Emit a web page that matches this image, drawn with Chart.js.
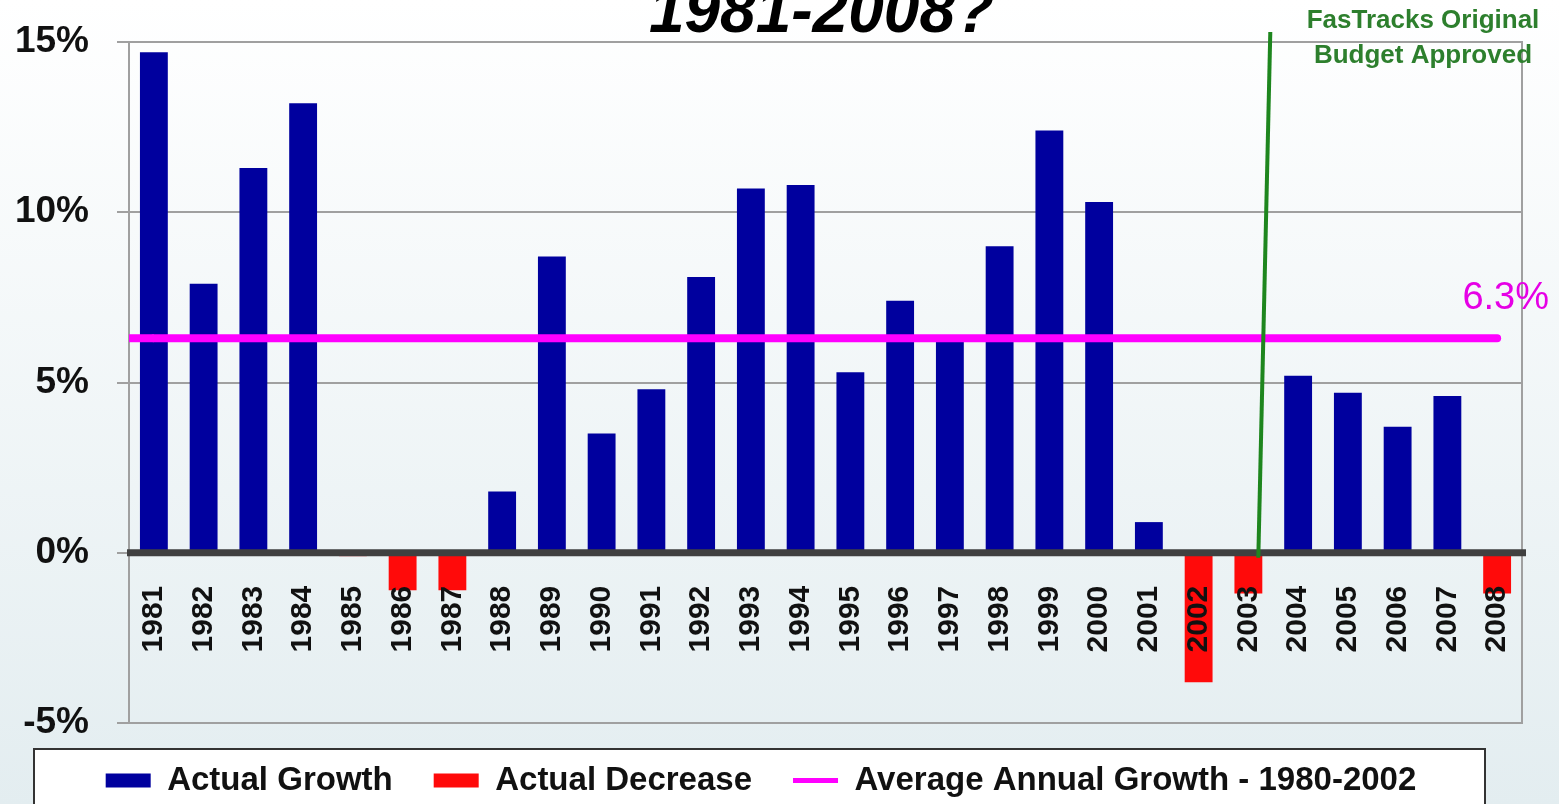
<!DOCTYPE html>
<html lang="en">
<head>
<meta charset="UTF-8">
<meta name="viewport" content="width=device-width, initial-scale=1.0">
<script src="https://cdn.jsdelivr.net/npm/chart.js@4.4.0/dist/chart.umd.min.js"></script>
<title>Annual Growth 1981-2008</title>
<style>
  html, body { margin: 0; padding: 0; overflow: hidden; background: #fff; }
  canvas { display: block; }
</style>
</head>
<body>
<canvas id="canvas" width="1559" height="807"></canvas>
<script>
// data (percent)
const years = ['1981','1982','1983','1984','1985','1986','1987','1988','1989','1990',
               '1991','1992','1993','1994','1995','1996','1997','1998','1999','2000',
               '2001','2002','2003','2004','2005','2006','2007','2008'];
const growth = [14.7, 7.9, 11.3, 13.2, null, null, null, 1.8, 8.7, 3.5,
                4.8, 8.1, 10.7, 10.8, 5.3, 7.4, 6.3, 9.0, 12.4, 10.3,
                0.9, null, null, 5.2, 4.7, 3.7, 4.6, null];
const decrease = [null, null, null, null, -0.1, -1.1, -1.1, null, null, null,
                  null, null, null, null, null, null, null, null, null, null,
                  null, -3.8, -1.2, null, null, null, null, -1.2];
const avgGrowth = [6.3, 6.3, 6.3, 6.3, 6.3, 6.3, 6.3, 6.3, 6.3, 6.3,
                   6.3, 6.3, 6.3, 6.3, 6.3, 6.3, 6.3, 6.3, 6.3, 6.3,
                   6.3, 6.3, 6.3, 6.3, 6.3, 6.3, 6.3, 6.3];
const yTicks = [-5, 0, 5, 10, 15];

const titleText = '1981-2008?';
const avgLabel = '6.3%';
const budgetYear = '2003';
const budgetNote = ['FasTracks Original', 'Budget Approved'];

const FONT = 'Arial, "Liberation Sans", sans-serif';

// background, legend frame, plot frame, zero line and notes
const paint = {
  id: 'paint',
  beforeDraw(chart) {
    const ctx = chart.ctx;
    ctx.save();
    const g = ctx.createLinearGradient(0, 0, 0, chart.height);
    g.addColorStop(0, '#ffffff');
    g.addColorStop(1, '#e3edf0');
    ctx.fillStyle = g;
    ctx.fillRect(0, 0, chart.width, chart.height);

    const lg = chart.legend;
    const bx = lg.left + 34, by = lg.top + 26, bw = lg.right - 37 - bx;
    ctx.fillStyle = '#ffffff';
    ctx.fillRect(bx, by, bw, chart.height);
    ctx.strokeStyle = '#333333';
    ctx.lineWidth = 2;
    ctx.strokeRect(bx, by, bw, chart.height);
    ctx.restore();
  },
  beforeDatasetsDraw(chart) {
    const ctx = chart.ctx, a = chart.chartArea;
    ctx.save();
    ctx.strokeStyle = '#a0a0a0';
    ctx.lineWidth = 2;
    ctx.strokeRect(a.left, a.top, a.right - a.left, a.bottom - a.top);
    ctx.restore();
  },
  afterDatasetsDraw(chart) {
    const ctx = chart.ctx, a = chart.chartArea;
    const xs = chart.scales.x, ys = chart.scales.y;
    const y0 = ys.getPixelForValue(0);
    ctx.save();
    // average line runs in from the plot edge
    const first = chart.getDatasetMeta(2).data[0];
    ctx.strokeStyle = '#ff00ff';
    ctx.lineWidth = 8;
    ctx.beginPath();
    ctx.moveTo(a.left, first.y);
    ctx.lineTo(first.x, first.y);
    ctx.stroke();

    // thick zero line over the bars
    ctx.strokeStyle = '#404040';
    ctx.lineWidth = 7;
    ctx.beginPath();
    ctx.moveTo(a.left - 2, y0);
    ctx.lineTo(a.right + 4, y0);
    ctx.stroke();

    // budget approval marker
    const i = years.indexOf(budgetYear);
    const p1 = xs.getPixelForValue(i), p2 = xs.getPixelForValue(i + 1);
    const mid = p1 + 0.32 * (p2 - p1);
    ctx.strokeStyle = '#1e861e';
    ctx.lineWidth = 4;
    ctx.beginPath();
    ctx.moveTo(mid + 6, ys.getPixelForValue(15) - 10);
    ctx.lineTo(mid - 6, y0 + 5);
    ctx.stroke();
    ctx.restore();
  },
  afterDraw(chart) {
    const ctx = chart.ctx, a = chart.chartArea;
    ctx.save();
    ctx.fillStyle = '#000';
    ctx.textAlign = 'center';
    ctx.textBaseline = 'alphabetic';
    ctx.font = 'italic bold 64px ' + FONT;
    ctx.fillText(titleText, (a.left + a.right) / 2 - 4, a.top - 10);

    const pts = chart.getDatasetMeta(2).data;
    const last = pts[pts.length - 1];
    ctx.fillStyle = '#e600e6';
    ctx.textAlign = 'right';
    ctx.font = '38px ' + FONT;
    ctx.fillText(avgLabel, a.right + 27, last.y - 29);

    ctx.fillStyle = '#2d7f2d';
    ctx.textAlign = 'center';
    ctx.font = 'bold 26px ' + FONT;
    ctx.fillText(budgetNote[0], a.right - 99, a.top - 14);
    ctx.fillText(budgetNote[1], a.right - 99, a.top + 21);
    ctx.restore();
  }
};

const ctx = document.getElementById('canvas');
const chart = new Chart(ctx, {
  type: 'bar',
  data: {
    labels: years,
    datasets: [
      {
        label: 'Actual Growth',
        data: growth,
        backgroundColor: '#00009e',
        barPercentage: 0.56,
        categoryPercentage: 1,
        grouped: false,
        order: 1
      },
      {
        label: 'Actual Decrease',
        data: decrease,
        backgroundColor: '#ff0a0a',
        barPercentage: 0.56,
        categoryPercentage: 1,
        grouped: false,
        order: 1
      },
      {
        type: 'line',
        label: 'Average Annual Growth - 1980-2002',
        data: avgGrowth,
        borderColor: '#ff00ff',
        backgroundColor: '#ff00ff',
        borderWidth: 8,
        borderCapStyle: 'round',
        pointRadius: 0,
        order: 0
      }
    ]
  },
  options: {
    responsive: false,
    animation: false,
    events: [],
    layout: { padding: { top: 42, right: 37, left: 0, bottom: 0 } },
    scales: {
      x: {
        position: { y: 0 },
        offset: true,
        grid: { display: false, drawTicks: false },
        border: { display: false },
        ticks: {
          z: 1,
          autoSkip: false,
          maxRotation: 90,
          minRotation: 90,
          padding: 33,
          color: '#111',
          font: { family: FONT, size: 30, weight: 'bold' }
        },
        afterFit(s) { s.paddingLeft = 0; s.paddingRight = 0; }
      },
      y: {
        min: -5,
        max: 15,
        afterBuildTicks(s) { s.ticks = yTicks.map(v => ({ value: v })); },
        grid: { color: '#a0a0a0', lineWidth: 2, tickLength: 12 },
        border: { color: '#a0a0a0', width: 2 },
        ticks: {
          padding: 28,
          color: '#111',
          font: { family: FONT, size: 37, weight: 'bold' },
          callback: v => v + '%'
        },
        afterFit(s) { s.width = 129; s.paddingTop = 0; s.paddingBottom = 0; }
      }
    },
    plugins: {
      title: { display: false },
      tooltip: { enabled: false },
      legend: {
        position: 'bottom',
        labels: {
          usePointStyle: true,
          pointStyleWidth: 45,
          boxHeight: 14,
          padding: 41,
          color: '#111',
          font: { family: FONT, size: 33, weight: 'bold' },
          generateLabels(chart) {
            const items = Chart.defaults.plugins.legend.labels.generateLabels(chart);
            items.forEach(it => {
              const ds = chart.data.datasets[it.datasetIndex];
              if (ds.type === 'line') {
                it.pointStyle = 'line';
                it.strokeStyle = ds.borderColor;
                it.lineWidth = 5;
              } else {
                it.pointStyle = 'rect';
                it.lineWidth = 0;
              }
            });
            return items.sort((a, b) => a.datasetIndex - b.datasetIndex);
          }
        }
      }
    }
  },
  plugins: [paint]
});
</script>
</body>
</html>
